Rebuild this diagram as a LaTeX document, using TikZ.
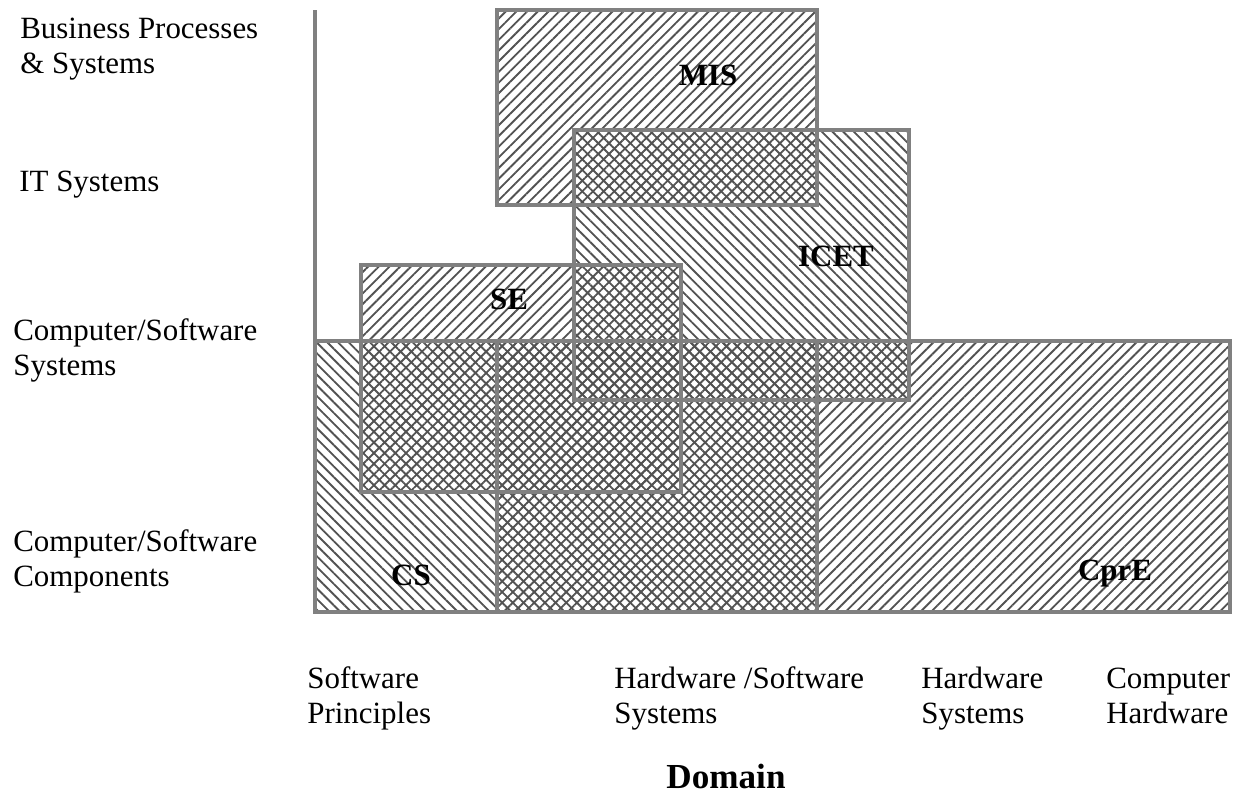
\documentclass[tikz,border=0pt]{standalone}
\usepackage{fontspec}
\setmainfont{Liberation Serif}
\usetikzlibrary{patterns.meta}
\definecolor{boxgray}{gray}{0.5}
\begin{document}
\begin{tikzpicture}[x=0.02cm,y=-0.02cm,
  box/.style={draw=boxgray,line width=2.2pt},
  axisline/.style={draw=boxgray,line width=2.8pt},
  nehatch/.style={pattern={Lines[angle=45,distance=4.3pt,line width=1.05pt]},pattern color=black!68},
  nwhatch/.style={pattern={Lines[angle=-45,distance=4.3pt,line width=1.05pt]},pattern color=black!68},
  txt/.style={font=\fontsize{17.6}{19.9}\selectfont,inner sep=0pt,align=left,anchor=base west},
  tag/.style={font=\fontsize{17.6}{19.9}\selectfont\bfseries,inner sep=0pt}]
\useasboundingbox (0,0) rectangle (1242,795);

\fill[nehatch] (497,10) rectangle (817,205);
\fill[nwhatch] (574,130) rectangle (909,400);
\fill[nehatch] (361,265) rectangle (681,492);
\fill[nwhatch] (315,341) rectangle (817,612);
\fill[nehatch] (497,341) rectangle (1230,612);

\draw[box] (497,10) rectangle (817,205);
\draw[box] (574,130) rectangle (909,400);
\draw[box] (361,265) rectangle (681,492);
\draw[box] (315,341) rectangle (817,612);
\draw[box] (497,341) rectangle (1230,612);
\draw[axisline] (315,10) -- (315,612) -- (1230,612);

\node[tag] (mis) at (708,75) {MIS};
\node[tag] (icet) at (836,256) {ICET};
\node[tag] (se) at (509,299) {SE};
\node[tag] (cs) at (411,575) {CS};
\node[tag] (cpre) at (1115,574) {CprE};

\node[txt] (bps) at (20,73) {Business Processes\\\& Systems};
\node[txt] (its) at (19,191) {IT Systems};
\node[txt] (css) at (13,375) {Computer/Software\\Systems};
\node[txt] (csc) at (13,586) {Computer/Software\\Components};

\node[txt] (swp) at (307,723) {Software\\Principles};
\node[txt] (hss) at (614,723) {Hardware /Software\\Systems};
\node[txt] (hws) at (921,723) {Hardware\\Systems};
\node[txt] (chw) at (1106,723) {Computer\\Hardware};
\node[font=\fontsize{20}{24}\selectfont\bfseries,inner sep=0pt,anchor=base] (dom) at (726,788) {Domain};
\end{tikzpicture}
\end{document}
